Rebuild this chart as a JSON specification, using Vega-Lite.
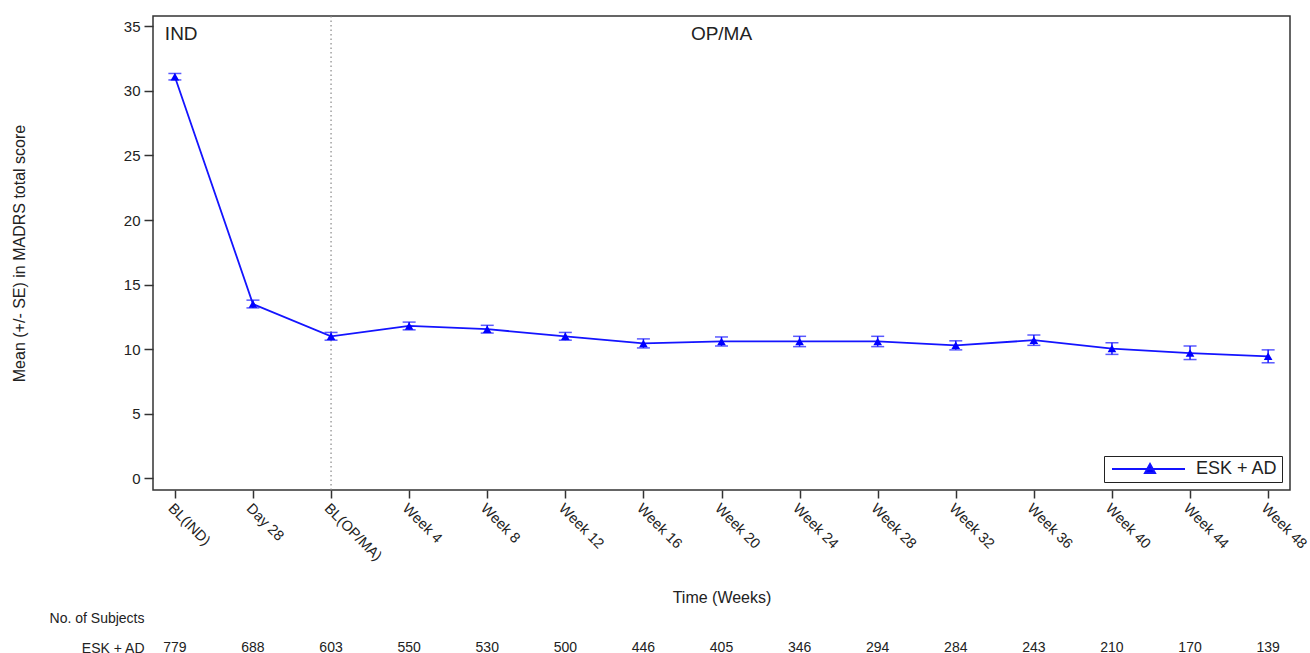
{
  "$schema": "https://vega.github.io/schema/vega-lite/v6.json",
  "background": "white",
  "padding": {"left": 10, "top": 14, "right": 5, "bottom": 0},
  "spacing": 0,
  "resolve": {"legend": {"color": "independent"}},
  "config": {
    "font": "Liberation Sans",
    "axis": {"labelFont": "Liberation Sans", "titleFont": "Liberation Sans", "labelColor": "#222", "titleColor": "#222", "grid": false, "titleFontWeight": "normal"},
    "legend": {"labelFont": "Liberation Sans"}
  },
  "datasets": {
    "madrs": [
      {"time": "BL(IND)", "group": "ESK + AD", "mean": 31.1, "lower": 30.85, "upper": 31.35, "n": 779},
      {"time": "Day 28", "group": "ESK + AD", "mean": 13.5, "lower": 13.2, "upper": 13.8, "n": 688},
      {"time": "BL(OP/MA)", "group": "ESK + AD", "mean": 11.0, "lower": 10.7, "upper": 11.3, "n": 603},
      {"time": "Week 4", "group": "ESK + AD", "mean": 11.8, "lower": 11.5, "upper": 12.1, "n": 550},
      {"time": "Week 8", "group": "ESK + AD", "mean": 11.55, "lower": 11.25, "upper": 11.85, "n": 530},
      {"time": "Week 12", "group": "ESK + AD", "mean": 11.0, "lower": 10.7, "upper": 11.3, "n": 500},
      {"time": "Week 16", "group": "ESK + AD", "mean": 10.45, "lower": 10.1, "upper": 10.8, "n": 446},
      {"time": "Week 20", "group": "ESK + AD", "mean": 10.6, "lower": 10.25, "upper": 10.95, "n": 405},
      {"time": "Week 24", "group": "ESK + AD", "mean": 10.6, "lower": 10.2, "upper": 11.0, "n": 346},
      {"time": "Week 28", "group": "ESK + AD", "mean": 10.6, "lower": 10.2, "upper": 11.0, "n": 294},
      {"time": "Week 32", "group": "ESK + AD", "mean": 10.3, "lower": 9.95, "upper": 10.65, "n": 284},
      {"time": "Week 36", "group": "ESK + AD", "mean": 10.7, "lower": 10.3, "upper": 11.1, "n": 243},
      {"time": "Week 40", "group": "ESK + AD", "mean": 10.05, "lower": 9.6, "upper": 10.5, "n": 210},
      {"time": "Week 44", "group": "ESK + AD", "mean": 9.7, "lower": 9.2, "upper": 10.25, "n": 170},
      {"time": "Week 48", "group": "ESK + AD", "mean": 9.45, "lower": 8.95, "upper": 9.95, "n": 139}
    ],
    "phases": [
      {"time": "BL(IND)", "value": 34.4, "label": "IND"},
      {"time": "Week 20", "value": 34.4, "label": "OP/MA"}
    ],
    "divider": [
      {"time": "BL(OP/MA)"}
    ]
  },
  "vconcat": [
    {
      "width": 1137,
      "height": 474,
      "view": {"stroke": "#333", "strokeWidth": 1.5},
      "encoding": {
        "x": {
          "field": "time", "type": "ordinal",
          "scale": {"type": "point", "padding": 0.28, "domain": ["BL(IND)", "Day 28", "BL(OP/MA)", "Week 4", "Week 8", "Week 12", "Week 16", "Week 20", "Week 24", "Week 28", "Week 32", "Week 36", "Week 40", "Week 44", "Week 48"]},
          "axis": {"title": "Time (Weeks)", "titleFontSize": 16, "titlePadding": 27, "labelAngle": 45, "labelFontSize": 14.5, "domain": false, "tickColor": "#333", "tickWidth": 1.5, "tickSize": 8, "labelPadding": 3}
        }
      },
      "layer": [
        {
          "data": {"name": "divider"},
          "mark": {"type": "rule", "color": "#888", "strokeDash": [1.5, 3], "strokeWidth": 1.2},
          "encoding": {}
        },
        {
          "data": {"name": "madrs"},
          "mark": {"type": "rule", "color": "#1414ff", "strokeWidth": 1.5},
          "encoding": {
            "y": {"field": "lower", "type": "quantitative"},
            "y2": {"field": "upper"}
          }
        },
        {
          "data": {"name": "madrs"},
          "mark": {"type": "tick", "color": "#1414ff", "size": 13, "thickness": 1.5},
          "encoding": {"y": {"field": "lower", "type": "quantitative"}}
        },
        {
          "data": {"name": "madrs"},
          "mark": {"type": "tick", "color": "#1414ff", "size": 13, "thickness": 1.5},
          "encoding": {"y": {"field": "upper", "type": "quantitative"}}
        },
        {
          "data": {"name": "madrs"},
          "mark": {"type": "line", "strokeWidth": 1.8},
          "encoding": {
            "y": {
              "field": "mean", "type": "quantitative",
              "scale": {"domain": [-0.9, 35.8], "nice": false, "zero": false},
              "axis": {"title": "Mean (+/- SE) in MADRS total score", "titleFontSize": 16, "titlePadding": 96, "values": [0, 5, 10, 15, 20, 25, 30, 35], "labelFontSize": 15, "domain": false, "tickColor": "#333", "tickWidth": 1.5, "tickSize": 9, "labelPadding": 4}
            },
            "color": {
              "field": "group", "type": "nominal",
              "scale": {"range": ["#1414ff"]},
              "legend": {
                "title": null,
                "orient": "bottom-right",
                "offset": 8,
                "strokeColor": "#222",
                "fillColor": "white",
                "padding": 4,
                "labelFontSize": 18,
                "labelColor": "#222",
                "labelOffset": 70,
                "symbolSize": 100,
                "symbolType": "M-1,0H13.6M6.6,-1L7.6,0.8L5.6,0.8Z",
                "encode": {"symbols": {"update": {"fill": {"value": "#0000ff"}, "stroke": {"value": "#7a7aff"}, "strokeWidth": {"value": 2}, "opacity": {"value": 1}}}}
              }
            }
          }
        },
        {
          "data": {"name": "madrs"},
          "mark": {"type": "point", "shape": "triangle-up", "filled": true, "size": 75, "color": "#0000ff", "opacity": 1},
          "encoding": {"y": {"field": "mean", "type": "quantitative"}}
        },
        {
          "data": {"name": "phases"},
          "transform": [{"filter": "datum.label === 'IND'"}],
          "mark": {"type": "text", "align": "left", "baseline": "middle", "dx": -10, "fontSize": 19, "color": "#222"},
          "encoding": {"y": {"field": "value", "type": "quantitative"}, "text": {"field": "label"}}
        },
        {
          "data": {"name": "phases"},
          "transform": [{"filter": "datum.label === 'OP/MA'"}],
          "mark": {"type": "text", "align": "center", "baseline": "middle", "fontSize": 19, "color": "#222"},
          "encoding": {"y": {"field": "value", "type": "quantitative"}, "text": {"field": "label"}}
        }
      ]
    },
    {
      "width": 1137,
      "height": 46,
      "view": {"stroke": null},
      "data": {"name": "madrs"},
      "mark": {"type": "text", "fontSize": 14, "color": "#222"},
      "encoding": {
        "x": {
          "field": "time", "type": "ordinal",
          "scale": {"type": "point", "padding": 0.28, "domain": ["BL(IND)", "Day 28", "BL(OP/MA)", "Week 4", "Week 8", "Week 12", "Week 16", "Week 20", "Week 24", "Week 28", "Week 32", "Week 36", "Week 40", "Week 44", "Week 48"]},
          "axis": null
        },
        "y": {
          "field": "group", "type": "nominal",
          "scale": {"type": "point", "padding": 0, "domain": ["No. of Subjects", "ESK + AD"], "range": [11, 41]},
          "axis": {"title": null, "domain": false, "ticks": false, "labelFontSize": 14, "labelPadding": 9, "labelColor": "#222"}
        },
        "text": {"field": "n", "type": "quantitative"}
      }
    }
  ]
}
